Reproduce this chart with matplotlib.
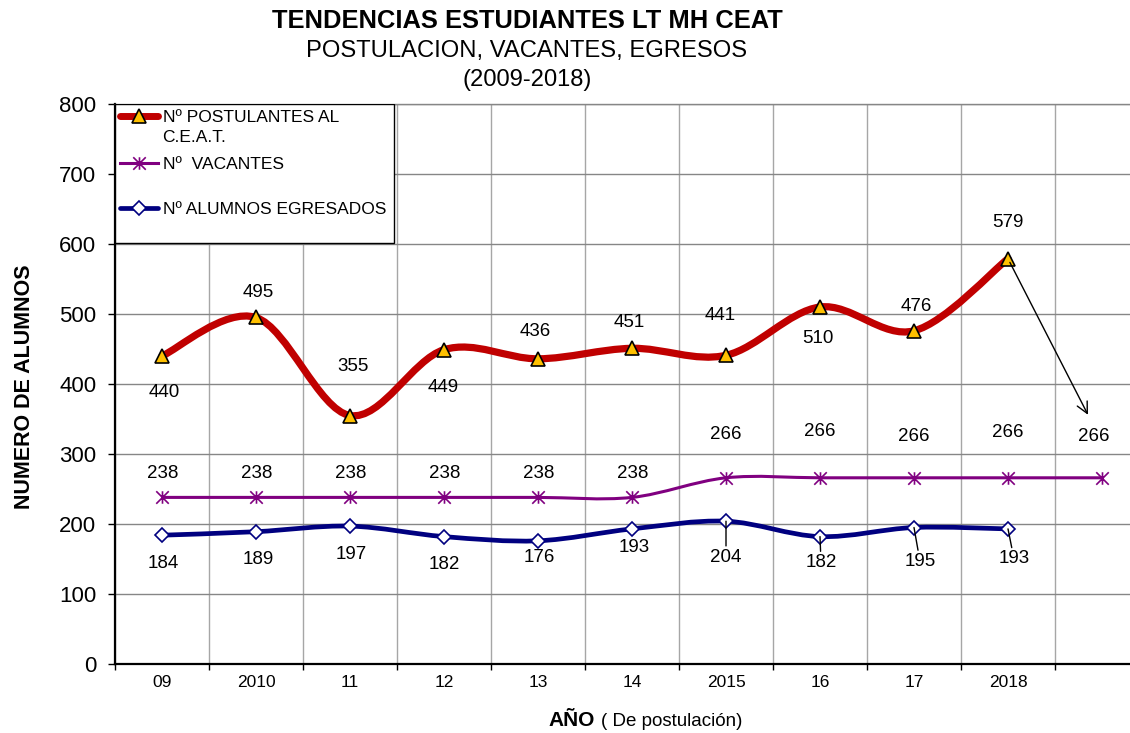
import matplotlib
matplotlib.use('Agg')
import numpy as np
import matplotlib.pyplot as plt
from matplotlib.path import Path
from matplotlib.patches import PathPatch, Rectangle
from matplotlib.lines import Line2D
from matplotlib.legend import Legend
import matplotlib.transforms as mtransforms

plt.rcParams['font.family'] = ['Liberation Sans', 'DejaVu Sans']

# ---------------- data ----------------
categories = ['09', '2010', '11', '12', '13', '14', '2015', '16', '17', '2018', '']
postulantes = [440, 495, 355, 449, 436, 451, 441, 510, 476, 579]
vacantes = [238, 238, 238, 238, 238, 238, 266, 266, 266, 266, 266]
egresados = [184, 189, 197, 182, 176, 193, 204, 182, 195, 193]
y_ticks = [0, 100, 200, 300, 400, 500, 600, 700, 800]

# label offsets (pixels) relative to each point
post_off = [(2, -37), (2, 25), (3, 49), (-1, -38), (-3, 27), (-3, 26), (-6, 40), (-2, -32), (2, 24), (0, 36)]
vac_off = [(1, 24)] * 6 + [(0, 43), (0, 46), (0, 41), (0, 45), (-8, 41)]
egr_off = [(1, -28), (2, -28), (1, -28), (0, -28), (1, -17), (2, -19), (0, -36), (1, -26), (6, -34), (6, -30)]
egr_leader = [False] * 6 + [True] * 4

RED = '#C00000'
GOLD = '#FFC000'
PURPLE = '#800080'
NAVY = '#000080'


def smooth_path(xs, ys):
    pts = np.column_stack([xs, ys]).astype(float)
    n = len(pts)
    verts = [pts[0]]
    codes = [Path.MOVETO]
    for i in range(n - 1):
        p0 = pts[i - 1] if i > 0 else pts[i]
        p1 = pts[i]
        p2 = pts[i + 1]
        p3 = pts[i + 2] if i + 2 < n else pts[i + 1]
        c1 = p1 + (p2 - p0) / 6.0
        c2 = p2 - (p3 - p1) / 6.0
        verts += [c1, c2, p2]
        codes += [Path.CURVE4] * 3
    return Path(verts, codes)


star = Path([(0, -1), (0, 1), (-1, -1), (1, 1), (-1, 1), (1, -1)],
            [Path.MOVETO, Path.LINETO, Path.MOVETO, Path.LINETO, Path.MOVETO, Path.LINETO])

fig = plt.figure(figsize=(11.3, 7.33), dpi=100)
ax = fig.add_axes([115 / 1130, 69 / 733, 1034 / 1130, 560 / 733])

x_post = np.arange(len(postulantes))
x_vac = np.arange(len(vacantes))
x_egr = np.arange(len(egresados))

# lines (smoothed)
ax.add_patch(PathPatch(smooth_path(x_post, postulantes), facecolor='none', edgecolor=RED,
                       lw=5.2, capstyle='round', joinstyle='round', zorder=3))
ax.add_patch(PathPatch(smooth_path(x_vac, vacantes), facecolor='none', edgecolor=PURPLE,
                       lw=2.2, zorder=3))
ax.add_patch(PathPatch(smooth_path(x_egr, egresados), facecolor='none', edgecolor=NAVY,
                       lw=3.4, capstyle='round', zorder=3))

# markers
ax.plot(x_post, postulantes, ls='none', marker='^', ms=10.5, mfc=GOLD, mec='black', mew=1.2, zorder=4)
ax.plot(x_vac, vacantes, ls='none', marker=star, ms=9, mfc='none', mec=PURPLE, mew=1.2, zorder=4)
ax.plot(x_egr, egresados, ls='none', marker='D', ms=7.5, mfc='white', mec=NAVY, mew=1.2, zorder=4)

lab_kw = dict(textcoords='offset pixels', ha='center', va='center', fontsize=13.5, zorder=6)
for xi, v, (dx, dy) in zip(x_post, postulantes, post_off):
    ax.annotate(str(v), xy=(xi, v), xytext=(dx, dy), **lab_kw)
for xi, v, (dx, dy) in zip(x_vac, vacantes, vac_off):
    ax.annotate(str(v), xy=(xi, v), xytext=(dx, dy), **lab_kw)
for xi, v, (dx, dy), lead in zip(x_egr, egresados, egr_off, egr_leader):
    if lead:
        ax.annotate(str(v), xy=(xi, v), xytext=(dx, dy),
                    arrowprops=dict(arrowstyle='-', color='black', lw=1, shrinkA=0, shrinkB=0), **lab_kw)
    else:
        ax.annotate(str(v), xy=(xi, v), xytext=(dx, dy), **lab_kw)

# arrow from last postulantes point toward the last vacantes label
ax.annotate('', xy=(x_vac[-1], vacantes[-1]),
            xycoords=mtransforms.offset_copy(ax.transData, fig=fig, x=-14, y=63, units='dots'),
            xytext=(x_post[-1], postulantes[-1]), textcoords='data',
            arrowprops=dict(arrowstyle='->', color='black', lw=1, shrinkA=3, shrinkB=0,
                            mutation_scale=20), zorder=6)

# axes styling
ax.set_xlim(-0.5, len(categories) - 0.5)
ax.set_ylim(0, 800)
ax.set_yticks(y_ticks)
ax.set_yticklabels([str(t) for t in y_ticks])
ax.set_xticks(np.arange(len(categories)))
ax.set_xticklabels(categories)
ax.set_xticks(np.arange(len(categories) + 1) - 0.5, minor=True)
ax.tick_params(axis='x', which='major', length=0, pad=8, labelsize=12.5)
ax.tick_params(axis='x', which='minor', length=4, width=1, direction='out', color='black')
ax.tick_params(axis='y', which='major', length=5, width=1, direction='out', pad=8.5, labelsize=16)
ax.grid(True, axis='y', which='major', color='#868686', lw=1, zorder=0)
ax.grid(True, axis='x', which='minor', color='#A6A6A6', lw=1, zorder=0)
ax.set_axisbelow(True)
ax.spines['right'].set_visible(False)
ax.spines['top'].set_color('#868686')
ax.spines['top'].set_linewidth(1)
ax.spines['left'].set_linewidth(1.6)
ax.spines['bottom'].set_linewidth(1.6)

# legend
ax.add_patch(Rectangle((0, 0.7518), 0.2698, 0.2482, transform=ax.transAxes, facecolor='white',
                       edgecolor='black', lw=1, zorder=5))
h_post = Line2D([], [], color=RED, lw=5, marker='^', ms=10, mfc=GOLD, mec='black', mew=1.2,
                solid_capstyle='round')
h_vac = Line2D([], [], color=PURPLE, lw=2.2, marker=star, ms=9, mfc='none', mec=PURPLE, mew=1.2)
h_egr = Line2D([], [], color=NAVY, lw=3.4, marker='D', ms=7.5, mfc='white', mec=NAVY, mew=1.2,
               solid_capstyle='round')
leg_fs = 12.5
for h, lab, ypx in [(h_post, 'Nº POSTULANTES AL', 117), (h_vac, 'Nº  VACANTES', 164),
                    (h_egr, 'Nº ALUMNOS EGRESADOS', 209)]:
    lg = Legend(ax, [h], [lab], loc='center left', bbox_to_anchor=(5 / 1034, (664 - ypx) / 560),
                bbox_transform=ax.transAxes, frameon=False, borderpad=0, borderaxespad=0,
                handlelength=2.2, handletextpad=0.25, numpoints=1, fontsize=leg_fs)
    lg.set_zorder(6)
    ax.add_artist(lg)
ax.text(47 / 1034, (664 - 137) / 560, 'C.E.A.T.', transform=ax.transAxes, va='center', ha='left',
        fontsize=leg_fs, zorder=6)

# titles
tx = 527 / 1130
fig.text(tx, 1 - 21 / 733, 'TENDENCIAS ESTUDIANTES LT MH CEAT', ha='center', va='center',
         fontsize=18.4, fontweight='bold')
fig.text(tx, 1 - 51 / 733, 'POSTULACION, VACANTES, EGRESOS', ha='center', va='center', fontsize=17.1)
fig.text(tx, 1 - 80 / 733, '(2009-2018)', ha='center', va='center', fontsize=17.1)

fig.text(25 / 1130, 1 - 387 / 733, 'NUMERO DE ALUMNOS', rotation=90, ha='center', va='center',
         fontsize=15.5, fontweight='bold')
fig.text(548 / 1130, 1 - 726 / 733, 'AÑO', ha='left', va='baseline', fontsize=15, fontweight='bold')
fig.text(601 / 1130, 1 - 726 / 733, '( De postulación)', ha='left', va='baseline', fontsize=13.5)

fig.savefig('out.png', dpi=100)
